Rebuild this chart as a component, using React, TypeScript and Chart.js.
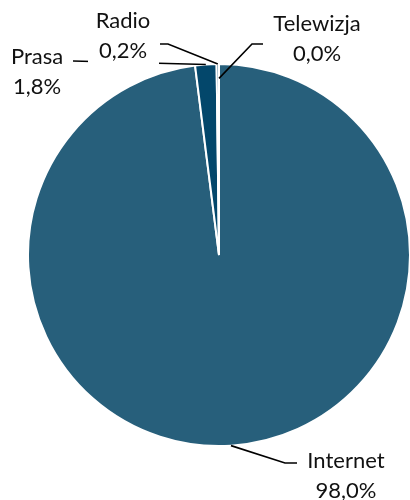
import React, { useEffect, useRef } from "react";
import { Chart, registerables } from "chart.js";

Chart.register(...registerables);

const categories = ["Internet", "Prasa", "Radio", "Telewizja"];
const shares = [98.0, 1.8, 0.2, 0.0];
const sliceColors = ["#275f7b", "#03476b", "#03476b", "#275f7b"];

// label layout: text centre x, first baseline y, leader polyline from label side, and anchor radius factor
const LABEL_LAYOUT = [
  { cx: 346, by: 468, pts: [[297, 463], [285, 463]], rf: 1.0, bg: null },
  { cx: 37, by: 64, pts: [[73, 61]], rf: 1.0, bg: null },
  { cx: 123, by: 28, pts: [[160, 44], [168, 44]], rf: 1.0, bg: [88, 8, 71, 62] },
  { cx: 317, by: 31, pts: [[263, 44], [252, 44]], rf: 0.925, bg: null },
];

const labelPlugin = {
  id: "pieLabels",
  afterDatasetsDraw(chart: any) {
    const ctx = chart.ctx;
    const meta = chart.getDatasetMeta(0);
    const font = "22px Lato";
    const lineH = 30;
    ctx.save();
    const draw = (i: number) => {
      const el: any = meta.data[i];
      const L = LABEL_LAYOUT[i];
      const { x, y, startAngle, endAngle, outerRadius } = el.getProps(
        ["x", "y", "startAngle", "endAngle", "outerRadius"],
        true
      );
      const mid = (startAngle + endAngle) / 2;
      const ax = x + Math.cos(mid) * outerRadius * L.rf;
      const ay = y + Math.sin(mid) * outerRadius * L.rf;
      ctx.strokeStyle = "#000";
      ctx.lineWidth = 1.6;
      ctx.beginPath();
      ctx.moveTo(L.pts[0][0], L.pts[0][1]);
      for (let k = 1; k < L.pts.length; k++) ctx.lineTo(L.pts[k][0], L.pts[k][1]);
      ctx.lineTo(ax, ay);
      ctx.stroke();
    };
    const text = (i: number) => {
      const L = LABEL_LAYOUT[i];
      if (L.bg) {
        ctx.fillStyle = "#ffffff";
        ctx.fillRect(L.bg[0], L.bg[1], L.bg[2], L.bg[3]);
      }
      ctx.fillStyle = "#111111";
      ctx.font = font;
      ctx.textAlign = "center";
      ctx.textBaseline = "alphabetic";
      ctx.fillText(categories[i], L.cx, L.by);
      const pct = shares[i].toFixed(1).replace(".", ",") + "%";
      ctx.fillText(pct, L.cx, L.by + lineH);
    };
    [1, 0, 3].forEach(draw);
    [1, 0, 3].forEach(text);
    text(2);
    draw(2);
    ctx.restore();
  },
};

export default function App() {
  const ref = useRef<HTMLCanvasElement | null>(null);
  useEffect(() => {
    document.body.style.margin = "0";
    const chart = new Chart(ref.current as HTMLCanvasElement, {
      type: "pie",
      data: {
        labels: categories,
        datasets: [
          {
            data: shares,
            backgroundColor: sliceColors,
            borderColor: "#ffffff",
            borderWidth: 2,
          },
        ],
      },
      options: {
        animation: false,
        responsive: false,
        radius: 191,
        layout: { padding: { left: 28, right: 0, top: 64, bottom: 54 } },
        plugins: {
          legend: { display: false },
          tooltip: { enabled: false },
        },
      },
      plugins: [labelPlugin],
    });
    return () => chart.destroy();
  }, []);
  return (
    <div style={{ width: 410, height: 500 }}>
      <canvas ref={ref} width={410} height={500} style={{ display: "block" }} />
    </div>
  );
}
